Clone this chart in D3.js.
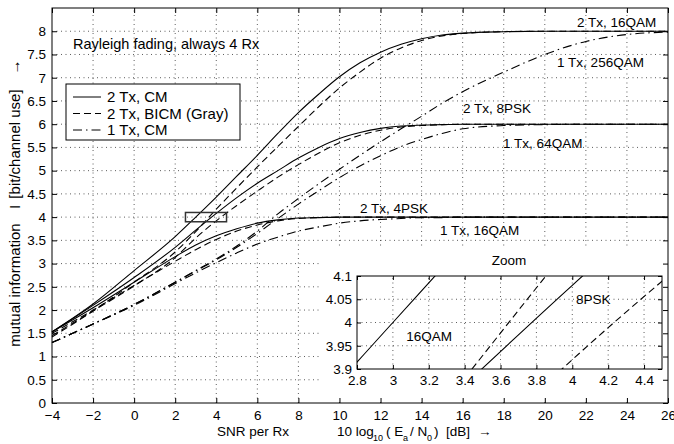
<!DOCTYPE html>
<html>
<head>
<meta charset="utf-8">
<script src="https://cdn.jsdelivr.net/npm/d3@7"></script>
<style>
  body { margin: 0; background: #fff; }
  svg text { font-family: "Liberation Sans", Arial, Helvetica, sans-serif; fill: #000; }
</style>
</head>
<body>
<svg id="chart" width="674" height="444"></svg>
<script>
const snr = [-4, -2, 0, 2, 3, 4, 5, 6, 7, 8, 9, 10, 11, 12, 13, 14, 15, 16, 18, 20, 22, 24, 26];

// 2 Tx, coded modulation (solid)
const tx2cm16qam = [1.53, 2.13, 2.85, 3.58, 4.0, 4.43, 4.88, 5.33, 5.8, 6.25, 6.65, 7.02, 7.32, 7.55, 7.72, 7.84, 7.92, 7.96, 7.99, 8, 8, 8, 8];
const tx2cm8psk = [1.53, 2.1, 2.7, 3.35, 3.72, 4.08, 4.42, 4.73, 5.0, 5.27, 5.5, 5.69, 5.82, 5.91, 5.96, 5.98, 5.99, 6, 6, 6, 6, 6, 6];
const tx2cm4psk = [1.53, 2.05, 2.6, 3.15, 3.4, 3.6, 3.75, 3.87, 3.94, 3.98, 3.99, 4, 4, 4, 4, 4, 4, 4, 4, 4, 4, 4, 4];

// 2 Tx, BICM Gray (dashed)
const tx2bicm16qam = [1.42, 1.98, 2.6, 3.25, 3.69, 4.17, 4.63, 5.08, 5.52, 5.95, 6.38, 6.78, 7.12, 7.42, 7.64, 7.8, 7.9, 7.95, 7.99, 8, 8, 8, 8];
const tx2bicm8psk = [1.45, 1.98, 2.52, 3.13, 3.55, 3.92, 4.25, 4.56, 4.86, 5.13, 5.38, 5.6, 5.76, 5.87, 5.94, 5.97, 5.99, 6, 6, 6, 6, 6, 6];
const tx2bicm4psk = [1.5, 2.0, 2.53, 3.05, 3.3, 3.52, 3.7, 3.83, 3.92, 3.97, 3.99, 4, 4, 4, 4, 4, 4, 4, 4, 4, 4, 4, 4];

// 1 Tx, coded modulation (dash-dot)
const tx1cm256qam = [1.3, 1.7, 2.12, 2.6, 2.85, 3.1, 3.38, 3.7, 4.07, 4.4, 4.72, 5.03, 5.33, 5.62, 5.9, 6.17, 6.45, 6.7, 7.12, 7.5, 7.78, 7.93, 7.98];
const tx1cm64qam = [1.3, 1.7, 2.12, 2.6, 2.84, 3.08, 3.35, 3.65, 3.97, 4.28, 4.57, 4.85, 5.1, 5.32, 5.52, 5.67, 5.8, 5.9, 5.97, 5.99, 6, 6, 6];
const tx1cm16qam = [1.3, 1.7, 2.1, 2.57, 2.8, 3.02, 3.23, 3.42, 3.57, 3.7, 3.79, 3.87, 3.92, 3.95, 3.97, 3.99, 3.99, 4, 4, 4, 4, 4, 4];

const xTicks = d3.range(-4, 27, 2);
const yTicks = d3.range(0, 8.01, 0.5);
const zoomXTicks = [2.8, 3, 3.2, 3.4, 3.6, 3.8, 4, 4.2, 4.4];
const zoomYTicks = [3.9, 3.95, 4, 4.05, 4.1];

const legendLabels = ["2 Tx, CM", "2 Tx, BICM (Gray)", "1 Tx, CM"];

const dashes = { cm: null, bicm: "7,4", tx1: "9,4,1.5,4" };

const curves = [
  { style: "cm", values: tx2cm16qam },
  { style: "cm", values: tx2cm8psk },
  { style: "cm", values: tx2cm4psk },
  { style: "bicm", values: tx2bicm16qam },
  { style: "bicm", values: tx2bicm8psk },
  { style: "bicm", values: tx2bicm4psk },
  { style: "tx1", values: tx1cm256qam },
  { style: "tx1", values: tx1cm64qam },
  { style: "tx1", values: tx1cm16qam }
];

// curve labels (data coordinates of the text start)
const curveLabels = [
  { text: "2 Tx, 16QAM", x: 21.57, y: 8.09 },
  { text: "1 Tx, 256QAM", x: 20.6, y: 7.23 },
  { text: "2 Tx, 8PSK", x: 16.02, y: 6.25 },
  { text: "1 Tx, 64QAM", x: 17.97, y: 5.49 },
  { text: "2 Tx, 4PSK", x: 11.0, y: 4.09 },
  { text: "1 Tx, 16QAM", x: 14.9, y: 3.62 }
];

const svg = d3.select("#chart");

const x = d3.scaleLinear().domain([-4, 26]).range([52, 668]);
const y = d3.scaleLinear().domain([0, 8.5]).range([403, 8]);

const fmt = v => (v < 0 ? "\u2212" + Math.abs(v) : String(v));

// grid
const grid = svg.append("g").attr("stroke", "#333").attr("stroke-width", 0.8).attr("stroke-dasharray", "1,3.5");
grid.selectAll("line.gx").data(xTicks.slice(1, -1)).join("line")
  .attr("x1", d => x(d)).attr("x2", d => x(d)).attr("y1", y(0)).attr("y2", y(8.5));
grid.selectAll("line.gy").data(yTicks.slice(1)).join("line")
  .attr("x1", x(-4)).attr("x2", x(26)).attr("y1", d => y(d)).attr("y2", d => y(d));

// curves
const line = d3.line()
  .x((d, i) => x(snr[i]))
  .y(d => y(d))
  .curve(d3.curveMonotoneX);

svg.append("g").selectAll("path").data(curves).join("path")
  .attr("d", d => line(d.values))
  .attr("fill", "none")
  .attr("stroke", "#000")
  .attr("stroke-width", 1.1)
  .attr("stroke-dasharray", d => dashes[d.style]);

// zoom region marker
svg.append("rect")
  .attr("x", x(2.5)).attr("y", y(4.1))
  .attr("width", x(4.5) - x(2.5)).attr("height", y(3.9) - y(4.1))
  .attr("fill", "none").attr("stroke", "#333").attr("stroke-width", 1.5);

// labels
svg.append("g").selectAll("text").data(curveLabels).join("text")
  .attr("x", d => x(d.x)).attr("y", d => y(d.y))
  .attr("font-size", 13.5)
  .text(d => d.text);

svg.append("text").attr("x", 73).attr("y", 49).attr("font-size", 14.5)
  .text("Rayleigh fading, always 4 Rx");

// legend
const legend = svg.append("g");
legend.append("rect").attr("x", 66).attr("y", 84).attr("width", 174).attr("height", 56)
  .attr("fill", "#fff").attr("stroke", "#000");
const legendStyles = ["cm", "bicm", "tx1"];
legendLabels.forEach((lab, i) => {
  const ly = 97 + i * 16.5;
  legend.append("line").attr("x1", 73).attr("x2", 101).attr("y1", ly).attr("y2", ly)
    .attr("stroke", "#000").attr("stroke-dasharray", dashes[legendStyles[i]]);
  legend.append("text").attr("x", 107).attr("y", ly).attr("dy", "0.35em")
    .attr("font-size", 15).text(lab);
});

// white area behind inset
svg.append("rect").attr("x", 322).attr("y", 248).attr("width", 345).attr("height", 154).attr("fill", "#fff");

// main axes
const tickStyle = g => {
  g.select(".domain").remove();
  g.selectAll(".tick line").attr("stroke", "#000");
  g.selectAll(".tick text").attr("font-size", 13.5).attr("font-family", null);
};

svg.append("g").attr("transform", "translate(0," + y(0) + ")")
  .call(d3.axisBottom(x).tickValues(xTicks).tickSize(-5).tickPadding(7).tickFormat(fmt))
  .call(tickStyle);
svg.append("g").attr("transform", "translate(0," + y(8.5) + ")")
  .call(d3.axisTop(x).tickValues(xTicks).tickSize(-5).tickFormat(""))
  .call(tickStyle);
svg.append("g").attr("transform", "translate(" + x(-4) + ",0)")
  .call(d3.axisLeft(y).tickValues(yTicks).tickSize(-5).tickPadding(6).tickFormat(fmt))
  .call(tickStyle);
svg.append("g").attr("transform", "translate(" + x(26) + ",0)")
  .call(d3.axisRight(y).tickValues(yTicks).tickSize(-5).tickFormat(""))
  .call(tickStyle);

svg.append("rect").attr("x", x(-4)).attr("y", y(8.5))
  .attr("width", x(26) - x(-4)).attr("height", y(0) - y(8.5))
  .attr("fill", "none").attr("stroke", "#000");

// axis titles
const xt = svg.append("g").attr("font-size", 13.5);
xt.append("text").attr("x", 217).attr("y", 436).text("SNR per Rx");
xt.append("text").attr("x", 337).attr("y", 436).text("10 log");
xt.append("text").attr("x", 373).attr("y", 441).attr("font-size", 9).text("10");
xt.append("text").attr("x", 386).attr("y", 436).text("( E");
xt.append("text").attr("x", 403).attr("y", 441).attr("font-size", 9).text("a");
xt.append("text").attr("x", 410).attr("y", 436).text("/ N");
xt.append("text").attr("x", 427).attr("y", 441).attr("font-size", 9).text("0");
xt.append("text").attr("x", 434).attr("y", 436).text(")");
xt.append("text").attr("x", 446).attr("y", 436).text("[dB]");
xt.append("text").attr("x", 478).attr("y", 436).text("\u2192");

const yt = svg.append("g").attr("font-size", 15).attr("text-anchor", "middle");
[["mutual information", 285], ["I", 207], ["[bit/channel use]", 144], ["\u2192", 67]].forEach(p => {
  yt.append("text").attr("transform", "translate(20," + p[1] + ") rotate(-90)").text(p[0]);
});

// inset
const zx = d3.scaleLinear().domain([2.8, 4.5]).range([357, 662]);
const zy = d3.scaleLinear().domain([3.9, 4.1]).range([369, 276]);
const inset = svg.append("g");

inset.append("clipPath").attr("id", "zclip").append("rect")
  .attr("x", zx(2.8)).attr("y", zy(4.1)).attr("width", zx(4.5) - zx(2.8)).attr("height", zy(3.9) - zy(4.1));

const zgrid = inset.append("g").attr("stroke", "#333").attr("stroke-width", 0.8).attr("stroke-dasharray", "1,3.5");
zgrid.selectAll("line.gx").data(zoomXTicks.slice(1)).join("line")
  .attr("x1", d => zx(d)).attr("x2", d => zx(d)).attr("y1", zy(3.9)).attr("y2", zy(4.1));
zgrid.selectAll("line.gy").data(zoomYTicks.slice(1, -1)).join("line")
  .attr("x1", zx(2.8)).attr("x2", zx(4.5)).attr("y1", d => zy(d)).attr("y2", d => zy(d));

const zline = d3.line()
  .x((d, i) => zx(snr[i]))
  .y(d => zy(d))
  .curve(d3.curveMonotoneX);

inset.append("g").attr("clip-path", "url(#zclip)")
  .selectAll("path").data(curves).join("path")
  .attr("d", d => zline(d.values))
  .attr("fill", "none")
  .attr("stroke", "#000")
  .attr("stroke-width", 1.1)
  .attr("stroke-dasharray", d => dashes[d.style]);

inset.append("g").attr("transform", "translate(0," + zy(3.9) + ")")
  .call(d3.axisBottom(zx).tickValues(zoomXTicks).tickSize(-4).tickPadding(6).tickFormat(d => String(d)))
  .call(tickStyle);
inset.append("g").attr("transform", "translate(0," + zy(4.1) + ")")
  .call(d3.axisTop(zx).tickValues(zoomXTicks).tickSize(-4).tickFormat(""))
  .call(tickStyle);
inset.append("g").attr("transform", "translate(" + zx(2.8) + ",0)")
  .call(d3.axisLeft(zy).tickValues(zoomYTicks).tickSize(-4).tickPadding(5).tickFormat(d => String(d)))
  .call(tickStyle);
inset.append("g").attr("transform", "translate(" + zx(4.5) + ",0)")
  .call(d3.axisRight(zy).tickValues(zoomYTicks).tickSize(-4).tickFormat(""))
  .call(tickStyle);

inset.append("rect").attr("x", zx(2.8)).attr("y", zy(4.1))
  .attr("width", zx(4.5) - zx(2.8)).attr("height", zy(3.9) - zy(4.1))
  .attr("fill", "none").attr("stroke", "#000");

inset.append("text").attr("x", 509).attr("y", 265).attr("text-anchor", "middle").attr("font-size", 13.5).text("Zoom");
inset.append("text").attr("x", zx(3.33)).attr("y", zy(3.96)).attr("text-anchor", "end").attr("font-size", 13.5).text("16QAM");
inset.append("text").attr("x", zx(4.02)).attr("y", zy(4.04)).attr("font-size", 13.5).text("8PSK");
</script>
</body>
</html>
